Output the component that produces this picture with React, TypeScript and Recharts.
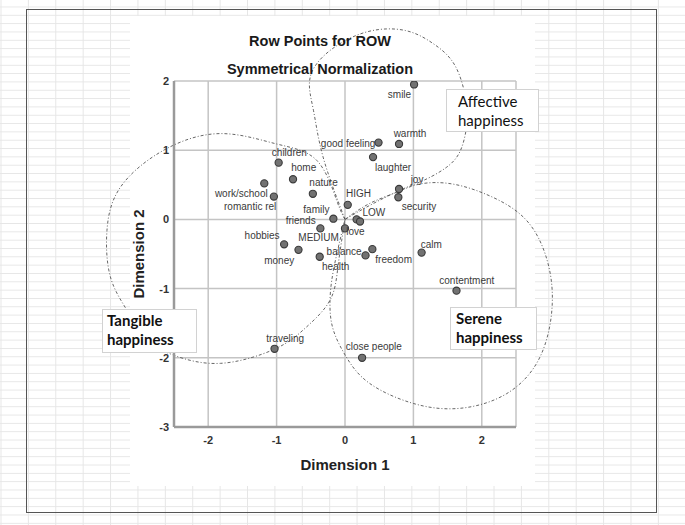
import React from 'react';
import { ComposedChart, Scatter, Line, XAxis, YAxis, CartesianGrid } from 'recharts';

// row points (dimension 1 / dimension 2)
const names = ['smile', 'warmth', 'good feeling', 'laughter', 'joy', 'security', 'calm', 'contentment', 'close people', 'traveling', 'children', 'home', 'work/school', 'romantic rel', 'nature', 'HIGH', 'family', 'friends', 'MEDIUM', 'LOW', 'love', 'hobbies', 'money', 'health', 'balance', 'freedom'];
const dim1 = [1.01, 0.79, 0.49, 0.41, 0.79, 0.78, 1.12, 1.63, 0.25, -1.03, -0.97, -0.76, -1.18, -1.04, -0.47, 0.04, -0.17, -0.36, 0.0, 0.17, 0.22, -0.89, -0.68, -0.37, 0.3, 0.4];
const dim2 = [1.95, 1.09, 1.11, 0.9, 0.44, 0.32, -0.48, -1.03, -2.0, -1.87, 0.82, 0.58, 0.52, 0.33, 0.37, 0.21, 0.01, -0.13, -0.13, 0.0, -0.03, -0.36, -0.44, -0.54, -0.52, -0.43];

const xTicks = [-2, -1, 0, 1, 2];
const yTicks = [-3, -2, -1, 0, 1, 2];

// hand-drawn groupings
const affectiveX = [0, -0.32, -0.46, -0.51, -0.22, 0.32, 0.88, 1.29, 1.61, 1.77, 1.78, 1.69, 1.48, 1.14, 0.8, 0.32, 0];
const affectiveY = [0, 0.9, 1.57, 2.05, 2.44, 2.71, 2.73, 2.54, 2.22, 1.72, 1.36, 1.0, 0.75, 0.56, 0.42, 0.18, 0];
const tangibleX = [0, -0.12, -0.41, -1.0, -1.82, -2.65, -3.28, -3.48, -3.43, -3.19, -2.92, -2.51, -1.82, -1.02, -0.58, -0.22, -0.1, 0];
const tangibleY = [0, 0.27, 0.85, 1.09, 1.24, 1.0, 0.47, -0.16, -0.83, -1.31, -1.72, -1.96, -2.08, -1.87, -1.57, -1.17, -0.66, 0];
const sereneX = [0, 0.36, 0.75, 1.09, 1.58, 2.16, 2.65, 2.94, 3.03, 2.85, 2.36, 1.68, 1.0, 0.36, 0.02, -0.17, -0.22, -0.17, 0];
const sereneY = [0, 0.23, 0.39, 0.51, 0.51, 0.32, -0.01, -0.54, -1.22, -1.99, -2.52, -2.73, -2.66, -2.37, -1.99, -1.6, -1.22, -0.74, 0];

const points = names.map((name, i) => ({ name, x: dim1[i], y: dim2[i] }));
const toLoop = (xs: number[], ys: number[]) => xs.map((x, i) => ({ x, y: ys[i] }));

// where each label sits relative to its dot (px)
const labelOffset: Record<string, [number, number]> = {
  'smile': [-14.6, 9.6], 'warmth': [11, -10.6], 'good feeling': [-30.4, 1], 'laughter': [20, 10.3],
  'joy': [18, -9.6], 'security': [20.6, 9.6], 'calm': [9.6, -8.3], 'contentment': [10.3, -10.3],
  'close people': [11.7, -11], 'traveling': [10.7, -10.6], 'children': [10.7, -10.3], 'home': [10.7, -11.3],
  'work/school': [-23, 9.6], 'romantic rel': [-23.7, 10], 'nature': [10.7, -11], 'HIGH': [10.7, -11.3],
  'family': [-17, -9.7], 'friends': [-19.7, -7.7], 'MEDIUM': [-26.4, 9.6], 'LOW': [17.3, -7.3],
  'love': [-4.6, 9.7], 'hobbies': [-22, -8.7], 'money': [-19.3, 10.3], 'health': [16, 9.7],
  'balance': [-21.4, -3.7], 'freedom': [21.3, 10.3],
};

const font = '"Liberation Sans", Arial, sans-serif';

const PointShape = (props: any) => {
  const { cx, cy, payload } = props;
  const off = labelOffset[payload.name] || [0, -10];
  return (
    <g>
      <circle cx={cx} cy={cy} r={3.6} fill="#727272" stroke="#3a3a3a" strokeWidth={1.1} />
      <text x={cx + off[0]} y={cy + off[1]} textAnchor="middle" dominantBaseline="central"
        fontSize={10} fill="#3a3a3a" fontFamily={font}>{payload.name}</text>
    </g>
  );
};

const boxStyle: React.CSSProperties = {
  position: 'absolute', background: '#fff', border: '1px solid #d2d2d2', boxSizing: 'border-box',
  fontFamily: 'Lato, "Open Sans", sans-serif', fontSize: 15, lineHeight: '19px', color: '#111',
};

export default function App() {
  const loopProps = {
    dataKey: 'y', type: 'natural' as const, stroke: '#555', strokeWidth: 0.9, strokeDasharray: '3 2 1 2',
    dot: false, activeDot: false, isAnimationActive: false, className: 'loop-line',
  };
  const tick = { fontSize: 11, fontWeight: 'bold', fill: '#333', fontFamily: font };
  return (
    <div style={{ position: 'absolute', left: 0, top: 0, width: 685, height: 525, overflow: 'hidden', background: '#fff' }}>
      <style>{'.loop-line, .loop-line * { clip-path: none !important; }'}</style>
      {/* spreadsheet behind the figure */}
      <div style={{
        position: 'absolute', left: 0, top: 0, width: 685, height: 525,
        backgroundImage: 'linear-gradient(to right, #e6e6e6 1px, transparent 1px), linear-gradient(to bottom, #e6e6e6 1px, transparent 1px)',
        backgroundSize: '27.4px 100%, 100% 8.33px', backgroundPosition: '0.5px 0, 0 6.5px',
      }} />
      <div style={{ position: 'absolute', left: 26, top: 9, width: 631, height: 504, border: '1.5px solid #555', boxSizing: 'border-box' }} />
      <div style={{ position: 'absolute', left: 130, top: 16, width: 405, height: 470, background: '#fff' }} />

      <div style={{ position: 'absolute', left: 0, top: 0 }}>
        <ComposedChart width={685} height={525} margin={{ top: 81, right: 169, bottom: 68, left: 104 }}>
          <CartesianGrid stroke="#c4c4c4" strokeWidth={1.5} />
          <XAxis type="number" dataKey="x" domain={[-2.5, 2.5]} ticks={xTicks} allowDataOverflow
            axisLine={{ stroke: '#9a9a9a', strokeWidth: 2.5 }} tickLine={false} tickSize={0} tickMargin={9}
            tick={tick} height={30}
            label={{ value: 'Dimension 1', position: 'bottom', offset: 2, style: { fontSize: 15, fontWeight: 'bold', fill: '#222', fontFamily: font } }} />
          <YAxis type="number" dataKey="y" domain={[-3, 2]} ticks={yTicks} allowDataOverflow
            axisLine={{ stroke: '#9a9a9a', strokeWidth: 2.5 }} tickLine={false} tickSize={0} tickMargin={5}
            tick={tick} width={70}
            label={{ value: 'Dimension 2', angle: -90, position: 'center', style: { fontSize: 15, fontWeight: 'bold', fill: '#222', fontFamily: font, textAnchor: 'middle' } }} />
          <Line data={toLoop(affectiveX, affectiveY)} {...loopProps} />
          <Line data={toLoop(tangibleX, tangibleY)} {...loopProps} />
          <Line data={toLoop(sereneX, sereneY)} {...loopProps} />
          <Scatter data={points} shape={PointShape} isAnimationActive={false} />
        </ComposedChart>
      </div>

      <div style={{ position: 'absolute', left: 0, width: 640, top: 30, textAlign: 'center', fontFamily: font, fontWeight: 'bold', fontSize: 14.5, color: '#1a1a1a', lineHeight: '22px' }}>
        Row Points for ROW
      </div>
      <div style={{ position: 'absolute', left: 0, width: 640, top: 58, textAlign: 'center', fontFamily: font, fontWeight: 'bold', fontSize: 14.5, color: '#1a1a1a', lineHeight: '22px' }}>
        Symmetrical Normalization
      </div>

      <div style={{ ...boxStyle, left: 446, top: 89, width: 93, height: 43, padding: '2px 0 0 11px' }}>Affective<br />happiness</div>
      <div style={{ ...boxStyle, left: 102, top: 309, width: 95, height: 44, padding: '1px 0 0 4px', fontWeight: 'bold' }}>Tangible<br />happiness</div>
      <div style={{ ...boxStyle, left: 450, top: 307, width: 87, height: 43, padding: '1px 0 0 5px', fontWeight: 'bold' }}>Serene<br />happiness</div>
    </div>
  );
}
